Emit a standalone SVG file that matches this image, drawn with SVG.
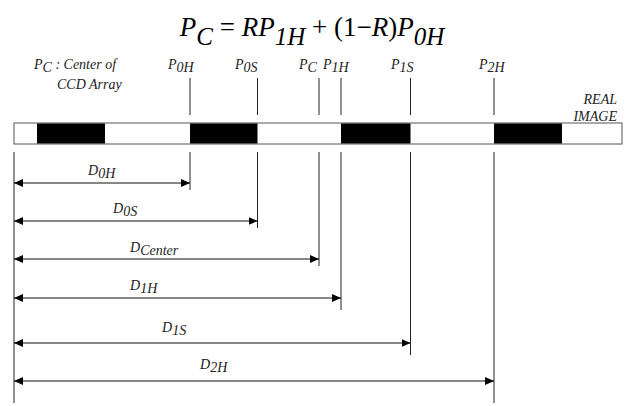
<svg xmlns="http://www.w3.org/2000/svg" width="628" height="406" viewBox="0 0 628 406">
  <defs>
    <style>
      .eq { font-family: "Liberation Serif", "Times New Roman", serif; font-size: 27px; fill: #000; }
      .it { font-style: italic; }
      .lbl { font-family: "Liberation Serif", "Times New Roman", serif; font-style: italic; font-size: 14px; fill: #222; }
      .tick { stroke: #222; stroke-width: 1; }
      .dim { stroke: #111; stroke-width: 1.2; fill: none; marker-start: url(#arrowL); marker-end: url(#arrowR); }
      .cell { fill: #000; }
    </style>
    <marker id="arrowR" markerUnits="userSpaceOnUse" markerWidth="10" markerHeight="8" refX="9" refY="4" orient="auto">
      <path d="M0,0 L9,4 L0,8 Z" fill="#000"/>
    </marker>
    <marker id="arrowL" markerUnits="userSpaceOnUse" markerWidth="10" markerHeight="8" refX="0" refY="4" orient="auto">
      <path d="M9,0 L0,4 L9,8 Z" fill="#000"/>
    </marker>
  </defs>

  <rect width="628" height="406" fill="#fff"/>

  <!-- Formula for the array centre -->
  <g id="formula">
    <text class="eq" x="312" y="36" text-anchor="middle"><tspan class="it">P</tspan><tspan class="it" dy="9" font-size="25">C</tspan><tspan dy="-9"> = </tspan><tspan class="it">RP</tspan><tspan class="it" dy="9" font-size="25">1H</tspan><tspan dy="-9"> + (1−</tspan><tspan class="it">R</tspan><tspan>)</tspan><tspan class="it">P</tspan><tspan class="it" dy="9" font-size="25">0H</tspan></text>
  </g>

  <!-- Position labels above the strip -->
  <g id="label-pc-center">
    <text class="lbl" x="34" y="69">P<tspan dy="3">C</tspan><tspan dy="-3"> : Center of</tspan></text>
    <text class="lbl" x="57" y="89">CCD Array</text>
  </g>
  <g id="label-p0h"><text class="lbl" x="168" y="69">P<tspan dy="3">0H</tspan></text></g>
  <g id="label-p0s"><text class="lbl" x="235" y="69">P<tspan dy="3">0S</tspan></text></g>
  <g id="label-pc"><text class="lbl" x="299" y="69">P<tspan dy="3">C</tspan></text></g>
  <g id="label-p1h"><text class="lbl" x="323" y="69">P<tspan dy="3">1H</tspan></text></g>
  <g id="label-p1s"><text class="lbl" x="391" y="69">P<tspan dy="3">1S</tspan></text></g>
  <g id="label-p2h"><text class="lbl" x="479" y="69">P<tspan dy="3">2H</tspan></text></g>
  <g id="label-real-image">
    <text class="lbl" x="617" y="104" text-anchor="end">REAL</text>
    <text class="lbl" x="617" y="121" text-anchor="end">IMAGE</text>
  </g>

  <!-- Strip of the real image on the CCD -->
  <g id="strip">
    <rect x="14" y="123" width="608" height="21" fill="#fff" stroke="#555" stroke-width="1"/>
    <rect class="cell" x="37" y="123.5" width="68" height="20"/>
    <rect class="cell" x="190" y="123.5" width="67.5" height="20"/>
    <rect class="cell" x="341" y="123.5" width="69.5" height="20"/>
    <rect class="cell" x="494" y="123.5" width="68" height="20"/>
  </g>

  <!-- Connectors: position ticks and distance arrows -->
  <g id="connectors">
    <!-- ticks above the strip -->
    <line class="tick" x1="190" y1="78" x2="190" y2="115"/>
    <line class="tick" x1="257.5" y1="78" x2="257.5" y2="115"/>
    <line class="tick" x1="319" y1="78" x2="319" y2="115" stroke="#666" stroke-width="1.5"/>
    <line class="tick" x1="341" y1="78" x2="341" y2="115"/>
    <line class="tick" x1="410.5" y1="78" x2="410.5" y2="115"/>
    <line class="tick" x1="494" y1="78" x2="494" y2="115"/>

    <!-- extension lines below the strip -->
    <line class="tick" x1="14" y1="152" x2="14" y2="403"/>
    <line class="tick" x1="190" y1="152" x2="190" y2="190"/>
    <line class="tick" x1="257.5" y1="152" x2="257.5" y2="228"/>
    <line class="tick" x1="319" y1="152" x2="319" y2="266" stroke="#666" stroke-width="1.5"/>
    <line class="tick" x1="341" y1="152" x2="341" y2="310"/>
    <line class="tick" x1="410.5" y1="152" x2="410.5" y2="355"/>
    <line class="tick" x1="494" y1="152" x2="494" y2="403"/>

    <!-- distance arrows -->
    <line class="dim" x1="14" y1="183" x2="190" y2="183"/>
    <line class="dim" x1="14" y1="221" x2="257.5" y2="221"/>
    <line class="dim" x1="14" y1="259" x2="319" y2="259"/>
    <line class="dim" x1="14" y1="298" x2="341" y2="298"/>
    <line class="dim" x1="14" y1="343" x2="410.5" y2="343"/>
    <line class="dim" x1="14" y1="381" x2="494" y2="381"/>
  </g>

  <!-- Distance labels -->
  <g id="label-d0h"><text class="lbl" x="88" y="175">D<tspan dy="3">0H</tspan></text></g>
  <g id="label-d0s"><text class="lbl" x="113" y="213">D<tspan dy="3">0S</tspan></text></g>
  <g id="label-dcenter"><text class="lbl" x="130" y="252">D<tspan dy="3">Center</tspan></text></g>
  <g id="label-d1h"><text class="lbl" x="130" y="290">D<tspan dy="3">1H</tspan></text></g>
  <g id="label-d1s"><text class="lbl" x="162" y="332">D<tspan dy="3">1S</tspan></text></g>
  <g id="label-d2h"><text class="lbl" x="200" y="369">D<tspan dy="3">2H</tspan></text></g>
</svg>
